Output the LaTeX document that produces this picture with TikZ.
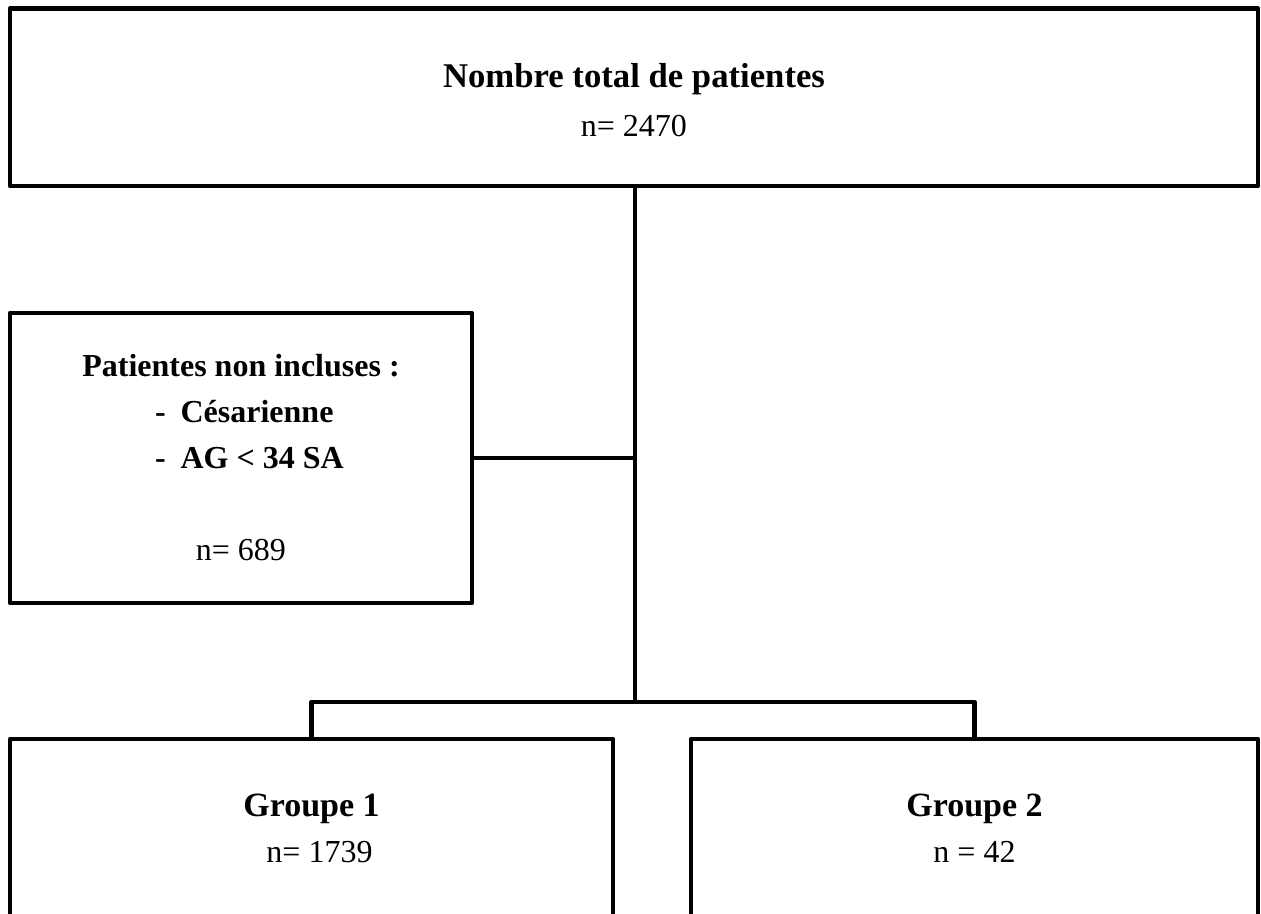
\documentclass[tikz,border=0pt]{standalone}
\usepackage{fontspec}
\setmainfont{Liberation Serif}
\begin{document}
\begin{tikzpicture}[x=1pt,y=-1pt,
  box/.style={draw, line width=4.8pt, line join=round, inner sep=0pt, align=center},
  link/.style={line width=4.8pt, line join=round}]
\clip (0,0) rectangle (1261,913);
\node[box, minimum width=1248pt, minimum height=177.5pt, font=\fontsize{32}{49}\selectfont] (top) at (634,97.25)
  {\rule{0pt}{30pt}{\fontsize{34.7}{49}\selectfont\bfseries Nombre total de patientes}\\ n= 2470};
\node[box, minimum width=462pt, minimum height=290pt, font=\fontsize{32}{46}\selectfont] (excl) at (241,458)
  {\textbf{Patientes non incluses :}\\
   \makebox[172pt][l]{\textbf{-\hspace{15pt}Césarienne}}\\
   \makebox[172pt][l]{\textbf{-\hspace{15pt}AG < 34 SA}}\\[46pt]
   n= 689};
\node[box, minimum width=603pt, minimum height=179pt, font=\fontsize{32}{46}\selectfont] (g1) at (311.5,828.5)
  {{\fontsize{34}{46}\selectfont\bfseries Groupe 1}\\ \hspace*{16pt}n= 1739};
\node[box, minimum width=567pt, minimum height=179pt, font=\fontsize{32}{46}\selectfont] (g2) at (974.5,828.5)
  {{\fontsize{34}{46}\selectfont\bfseries Groupe 2}\\ n = 42};
\coordinate (split) at (635,702);
\draw[link] (split |- top.south) -- (split);
\draw[link] (excl.east) -- (excl.east -| split);
\draw[link] (g1.north) |- (split) -| (g2.north);
\end{tikzpicture}
\end{document}
